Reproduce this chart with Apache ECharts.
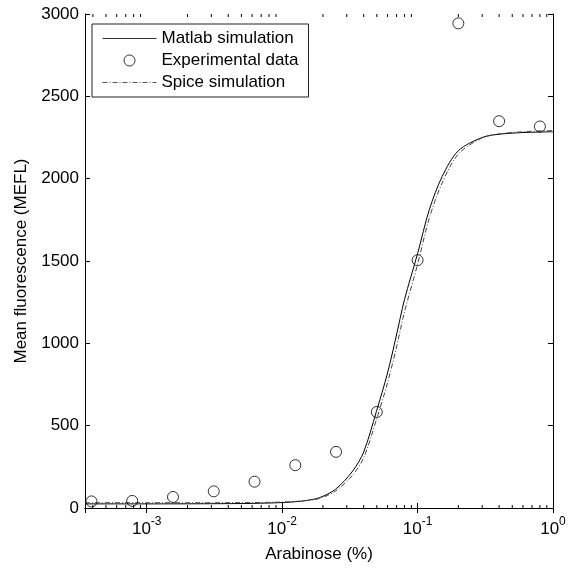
<!DOCTYPE html>
<html>
<head>
<meta charset="utf-8">
<script src="https://cdn.jsdelivr.net/npm/echarts@6/dist/echarts.min.js"></script>
<style>
  html, body { margin: 0; padding: 0; background: #fff; }
  #chart { width: 569px; height: 570px; }
</style>
</head>
<body>
<div id="chart"></div>
<script>
// Arabinose concentrations (%) of the measured samples
const expConc = [3.90625e-4, 7.8125e-4, 1.5625e-3, 3.125e-3, 6.25e-3, 0.0125, 0.025, 0.05, 0.1, 0.2, 0.4, 0.8];
// Measured mean fluorescence (MEFL)
const expFluor = [40, 43, 67, 101, 160, 260, 341, 583, 1505, 2943, 2349, 2317];

// Sample points along the simulated dose-response curves
const simConc = [3.5e-4, 1e-3, 3e-3, 6e-3, 0.01, 0.0125, 0.015, 0.0189, 0.0248, 0.0332, 0.04, 0.0496, 0.06, 0.0693, 0.08, 0.1, 0.122, 0.152, 0.2, 0.3, 0.4, 0.6, 0.8, 1];
const matlabFluor = [25, 25, 26, 28, 33, 38, 45, 63, 114, 225, 340, 585, 820, 1038, 1265, 1545, 1811, 2014, 2170, 2250, 2270, 2280, 2283, 2285];
const spiceFluor = [32, 32, 32, 33, 36, 40, 45, 58, 103, 200, 305, 535, 760, 965, 1190, 1480, 1760, 1975, 2150, 2248, 2272, 2285, 2290, 2292];

// Axis ranges and tick values
const xMin = 3.5e-4, xMax = 1;
const yMin = 0, yMax = 3000, yStep = 500;
const xMinorTicks = [4e-4, 5e-4, 6e-4, 7e-4, 8e-4, 9e-4,
  2e-3, 3e-3, 4e-3, 5e-3, 6e-3, 7e-3, 8e-3, 9e-3,
  2e-2, 3e-2, 4e-2, 5e-2, 6e-2, 7e-2, 8e-2, 9e-2,
  0.2, 0.3, 0.4, 0.5, 0.6, 0.7, 0.8, 0.9];

const FONT = 'Liberation Sans';
const FS = 17;
const zip = (xs, ys) => xs.map((x, i) => [x, ys[i]]);

const chart = echarts.init(document.getElementById('chart'));

function powerLabel(v) {
  const e = Math.round(Math.log10(v));
  if (Math.abs(Math.log10(v) - e) > 1e-6) return '';
  return '{b|10}{s|' + e + '}';
}

const hiddenSymbol = { color: 'rgba(0,0,0,0)', borderColor: 'rgba(0,0,0,0)', borderWidth: 0 };

const option = {
  animation: false,
  backgroundColor: '#fff',
  textStyle: { fontFamily: FONT, color: '#000' },
  grid: { left: 85, right: 16, top: 14, bottom: 62 },
  legend: {
    orient: 'vertical',
    left: 92, top: 24,
    data: [
      { name: 'Matlab simulation', itemStyle: hiddenSymbol, lineStyle: { width: 1, color: '#333' } },
      { name: 'Experimental data', itemStyle: { color: 'rgba(255,255,255,0)', borderColor: '#000', borderWidth: 1 } },
      { name: 'Spice simulation', itemStyle: hiddenSymbol, lineStyle: { width: 1, color: '#555' } }
    ],
    itemWidth: 54, itemHeight: 11, itemGap: 5,
    padding: [6, 10, 6, 10],
    borderColor: '#222', borderWidth: 1,
    backgroundColor: '#fff',
    textStyle: { fontFamily: FONT, fontSize: FS, color: '#000', lineHeight: 17 },
    selectedMode: false
  },
  xAxis: [{
    type: 'log', min: xMin, max: xMax, logBase: 10,
    name: 'Arabinose (%)', nameLocation: 'middle', nameGap: 38,
    nameTextStyle: { fontFamily: FONT, fontSize: FS, color: '#000' },
    axisLine: { lineStyle: { color: '#000', width: 1 } },
    axisTick: { inside: true, length: 5, lineStyle: { color: '#000' } },
    axisLabel: {
      showMinLabel: false, margin: 8, color: '#000',
      formatter: powerLabel,
      rich: {
        b: { fontFamily: FONT, fontSize: FS, color: '#000', lineHeight: 22, verticalAlign: 'bottom' },
        s: { fontFamily: FONT, fontSize: 12, color: '#000', lineHeight: 22, verticalAlign: 'top' }
      }
    },
    splitLine: { show: false }
  }, {
    type: 'log', min: xMin, max: xMax, logBase: 10, position: 'top',
    axisLine: { lineStyle: { color: '#000', width: 1 } },
    axisTick: { inside: true, length: 5, lineStyle: { color: '#000' } },
    axisLabel: { show: false },
    splitLine: { show: false }
  }],
  yAxis: [{
    type: 'value', min: yMin, max: yMax, interval: yStep,
    name: 'Mean fluorescence (MEFL)', nameLocation: 'middle', nameGap: 47,
    nameTextStyle: { fontFamily: FONT, fontSize: FS, color: '#000' },
    axisLine: { show: true, lineStyle: { color: '#000', width: 1 } },
    axisTick: { show: true, inside: true, length: 5, lineStyle: { color: '#000' } },
    axisLabel: { fontFamily: FONT, fontSize: FS, color: '#000', margin: 6, formatter: v => String(v) },
    splitLine: { show: false }
  }, {
    type: 'value', min: yMin, max: yMax, interval: yStep, position: 'right',
    axisLine: { show: true, lineStyle: { color: '#000', width: 1 } },
    axisTick: { show: true, inside: true, length: 5, lineStyle: { color: '#000' } },
    axisLabel: { show: false },
    splitLine: { show: false }
  }],
  series: [{
    name: 'Matlab simulation',
    type: 'line',
    data: zip(simConc, matlabFluor),
    smooth: 0.3,
    symbol: 'none',
    lineStyle: { color: '#000', width: 1 },
    itemStyle: { color: '#000' },
    z: 3
  }, {
    name: 'Experimental data',
    type: 'scatter',
    data: zip(expConc, expFluor),
    symbol: 'circle',
    symbolSize: 11,
    itemStyle: { color: 'rgba(255,255,255,0)', borderColor: '#000', borderWidth: 1 },
    z: 4
  }, {
    name: 'Spice simulation',
    type: 'line',
    data: zip(simConc, spiceFluor),
    smooth: 0.3,
    symbol: 'none',
    lineStyle: { color: '#444', width: 1, type: [5, 2, 1, 2] },
    itemStyle: { color: '#444' },
    z: 3
  }, {
    // minor log ticks on the bottom and top axes
    type: 'custom',
    silent: true,
    clip: false,
    data: xMinorTicks.map(v => [v, yMin]),
    renderItem: function (params, api) {
      const v = api.value(0);
      const pb = api.coord([v, yMin]);
      const pt = api.coord([v, yMax]);
      return {
        type: 'group',
        children: [
          { type: 'line', shape: { x1: pb[0], y1: pb[1], x2: pb[0], y2: pb[1] - 3 }, style: { stroke: '#000', lineWidth: 1 } },
          { type: 'line', shape: { x1: pt[0], y1: pt[1], x2: pt[0], y2: pt[1] + 3 }, style: { stroke: '#000', lineWidth: 1 } }
        ]
      };
    },
    z: 5
  }]
};

chart.setOption(option);
</script>
</body>
</html>
